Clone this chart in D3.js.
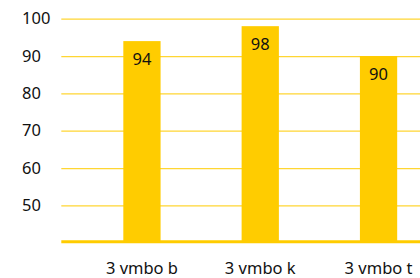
<!DOCTYPE html>
<html>
<head>
<meta charset="utf-8">
<script src="https://cdn.jsdelivr.net/npm/d3@7.9.0/dist/d3.min.js"></script>
<style>
  body { margin: 0; background: #fff; }
  svg { display: block; font-family: "Noto Sans", sans-serif; }
</style>
</head>
<body>
<div id="chart"></div>
<script>
const categories = ['3 vmbo b', '3 vmbo k', '3 vmbo t'];
const values = [94, 98, 90];
const yTicks = [50, 60, 70, 80, 90, 100];

const width = 420;
const height = 278;
const fontSize = 16.5;

const svg = d3.select('#chart')
  .append('svg')
  .attr('width', width)
  .attr('height', height);

// plot area runs off the right edge, like the original crop
const x = d3.scaleBand()
  .domain(categories)
  .range([82.8, 82.8 + 3 * 118.3])
  .paddingInner(0.685)
  .paddingOuter(0.3425);

const y = d3.scaleLinear().domain([40, 100]).range([242.7, 18.7]);

// gridlines
const grid = svg.append('g')
  .attr('transform', 'translate(61.3,0)')
  .call(d3.axisLeft(y).tickValues(yTicks).tickFormat('').tickSize(-(width - 61.3)));
grid.select('.domain').remove();
grid.selectAll('line').attr('stroke', '#ffd633').attr('stroke-width', 1.3);

// y labels, left aligned
svg.append('g')
  .selectAll('text')
  .data(yTicks)
  .join('text')
  .attr('x', 22)
  .attr('y', d => y(d))
  .attr('dy', '0.35em')
  .attr('font-size', fontSize)
  .attr('fill', '#111')
  .text(d => d);

// bars
svg.append('g')
  .selectAll('rect')
  .data(values)
  .join('rect')
  .attr('x', (d, i) => x(categories[i]))
  .attr('y', d => y(d))
  .attr('width', x.bandwidth())
  .attr('height', d => y(40) - y(d))
  .attr('fill', '#ffcc00');

// baseline
svg.append('line')
  .attr('x1', 61.3)
  .attr('x2', width)
  .attr('y1', y(40) - 1)
  .attr('y2', y(40) - 1)
  .attr('stroke', '#ffcc00')
  .attr('stroke-width', 3);

// value labels
svg.append('g')
  .selectAll('text')
  .data(values)
  .join('text')
  .attr('x', (d, i) => x(categories[i]) + x.bandwidth() / 2)
  .attr('y', d => y(d) + 18)
  .attr('dy', '0.35em')
  .attr('text-anchor', 'middle')
  .attr('font-size', fontSize)
  .attr('fill', '#111')
  .text(d => d);

// category labels
svg.append('g')
  .attr('transform', 'translate(0,268)')
  .call(d3.axisBottom(x).tickSize(0).tickPadding(0))
  .call(g => g.select('.domain').remove())
  .selectAll('text')
  .attr('dy', '0.35em')
  .attr('font-size', fontSize)
  .attr('font-family', '"Noto Sans", sans-serif')
  .attr('fill', '#111');
</script>
</body>
</html>
